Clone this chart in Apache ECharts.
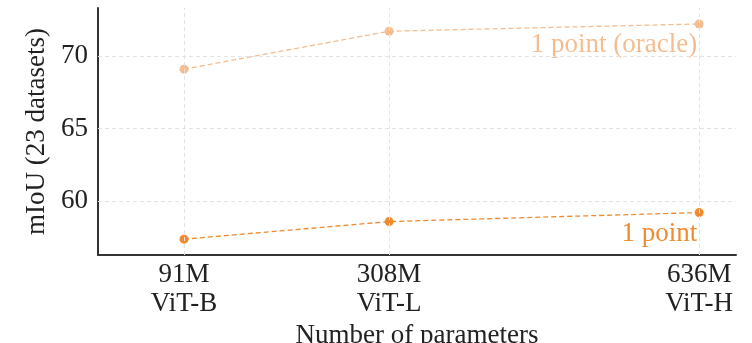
<!DOCTYPE html>
<html>
<head>
<meta charset="utf-8">
<script src="https://cdn.jsdelivr.net/npm/echarts@6/dist/echarts.min.js"></script>
<style>
html,body{margin:0;padding:0;background:#fff;}
#chart{width:752px;height:343px;}
</style>
</head>
<body>
<div id="chart"></div>
<script>
const paramCounts = [91, 308, 636];
const modelNames = ['ViT-B', 'ViT-L', 'ViT-H'];
const oracleValues = [69.09, 71.70, 72.20];
const onePointValues = [57.39, 58.60, 59.22];
const yTicks = [60, 65, 70];
const seriesNames = ['1 point (oracle)', '1 point'];

const FONT = '"Liberation Serif", "Times New Roman", serif';
const ORACLE_COLOR = '#F5BD8F';
const MAIN_COLOR = '#F08A2E';

function makeData(values, color, name) {
  return paramCounts.map((x, i) => {
    const item = { value: [x, values[i]] };
    if (i === paramCounts.length - 1) {
      item.label = {
        show: true,
        formatter: name,
        position: [2.5, 25.5],
        align: 'right',
        verticalAlign: 'middle',
        color: color,
        fontSize: 27,
        fontFamily: FONT
      };
    }
    return item;
  });
}

const chart = echarts.init(document.getElementById('chart'), null, { renderer: 'canvas' });
chart.setOption({
  animation: false,
  backgroundColor: '#fff',
  grid: { left: 98, right: 16, top: 8, bottom: 88, containLabel: false, outerBoundsMode: 'none' },
  xAxis: {
    type: 'value',
    min: 0,
    max: 675,
    name: 'Number of parameters',
    nameLocation: 'middle',
    nameGap: 55,
    nameTextStyle: { fontSize: 27, fontFamily: FONT, color: '#222' },
    axisLine: { show: true, lineStyle: { color: '#333', width: 2 } },
    axisTick: { show: false, customValues: paramCounts },
    splitLine: { show: false },
    axisLabel: {
      customValues: paramCounts,
      formatter: v => {
        const i = paramCounts.indexOf(v);
        return i >= 0 ? v + 'M\n' + modelNames[i] : '';
      },
      fontSize: 27,
      lineHeight: 29,
      margin: 5,
      color: '#222',
      fontFamily: FONT
    }
  },
  yAxis: {
    type: 'value',
    min: 56.3,
    max: 73.3,
    name: 'mIoU (23 datasets)',
    nameLocation: 'middle',
    nameGap: 44,
    nameTextStyle: { fontSize: 27, fontFamily: FONT, color: '#222' },
    axisLine: { show: true, lineStyle: { color: '#333', width: 2 } },
    axisTick: { show: false, customValues: yTicks },
    splitLine: { show: false },
    axisLabel: {
      customValues: yTicks,
      formatter: v => String(v),
      fontSize: 27,
      margin: 10,
      color: '#222',
      fontFamily: FONT
    }
  },
  series: [
    {
      type: 'line',
      name: 'grid',
      data: [],
      z: 1,
      silent: true,
      markLine: {
        silent: true,
        symbol: ['none', 'none'],
        label: { show: false },
        lineStyle: { type: [4, 3], color: '#e3e3e3', width: 1 },
        data: paramCounts.map(v => ({ xAxis: v })).concat(yTicks.map(v => ({ yAxis: v })))
      }
    },
    {
      type: 'line',
      name: seriesNames[0],
      data: makeData(oracleValues, ORACLE_COLOR, seriesNames[0]),
      symbol: 'circle',
      symbolSize: 9,
      z: 3,
      lineStyle: { type: [5, 3], width: 1.3, color: ORACLE_COLOR },
      itemStyle: { color: ORACLE_COLOR, borderWidth: 0 }
    },
    {
      type: 'line',
      name: seriesNames[1],
      data: makeData(onePointValues, MAIN_COLOR, seriesNames[1]),
      symbol: 'circle',
      symbolSize: 9,
      z: 3,
      lineStyle: { type: [5, 3], width: 1.3, color: MAIN_COLOR },
      itemStyle: { color: MAIN_COLOR, borderWidth: 0 }
    }
  ]
});
</script>
</body>
</html>
